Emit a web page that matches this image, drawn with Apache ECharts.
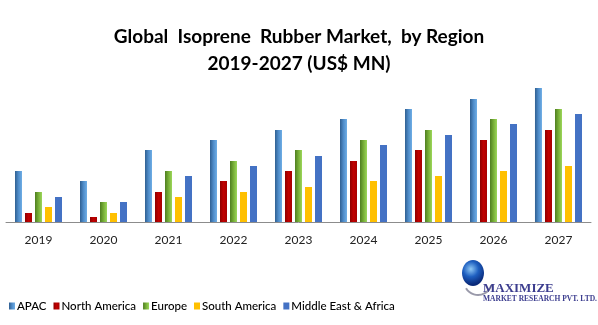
<!DOCTYPE html>
<html><head><meta charset="utf-8">
<script src="https://cdn.jsdelivr.net/npm/echarts@6/dist/echarts.min.js"></script>
<style>html,body{margin:0;padding:0;background:#fff}#c{width:598px;height:325px}</style>
</head><body><div id="c"></div>
<script>
const years = ['2019','2020','2021','2022','2023','2024','2025','2026','2027'];
const seriesNames = ['APAC','North America','Europe','South America','Middle East & Africa'];
const apac = [51, 41, 72, 82, 92, 103, 113, 123, 134];
const northAmerica = [9, 5, 30, 41, 51, 61, 72, 82, 92];
const europe = [30, 20, 51, 61, 72, 82, 92, 103, 113];
const southAmerica = [15, 9, 25, 30, 35, 41, 46, 51, 56];
const mea = [25, 20, 46, 56, 66, 77, 87, 98, 108];

function hgrad(stops){return {type:'linear',x:0,y:0,x2:1,y2:0,colorStops:stops.map((c,i)=>({offset:i/(stops.length-1),color:c}))};}
const colors = [
  hgrad(['#2F5F91','#4F8CC9','#6FAEE6']),
  hgrad(['#8E0000','#C00000','#A80000']),
  hgrad(['#4E7E20','#77AE37','#9CD75A']),
  '#FFC000',
  '#4472C4'
];
const values = [apac, northAmerica, europe, southAmerica, mea];
const chart = echarts.init(document.getElementById('c'));
chart.setOption({
  backgroundColor:'#fff',
  animation:false,
  title:{text:'Global  Isoprene  Rubber Market,  by Region\n2019-2027 (US$ MN)',left:'center',top:18,
    textStyle:{fontFamily:'Lato',fontWeight:'bold',fontSize:19,lineHeight:27,color:'#000'}},
  grid:{left:6,right:7,top:82,bottom:103},
  legend:{left:4,top:295,itemWidth:6,itemHeight:7,itemGap:7,icon:'rect',
    textStyle:{fontFamily:'Lato',fontSize:11.5,fontWeight:500,color:'#000',padding:[0,0,0,-3]},
    data:seriesNames},
  xAxis:{type:'category',data:years,axisTick:{show:false},
    axisLine:{lineStyle:{color:'#8C8C8C',width:1}},
    axisLabel:{fontFamily:'Lato',fontSize:12,color:'#222',margin:12}},
  yAxis:{type:'value',min:0,max:140,show:false,splitLine:{show:false}},
  series: seriesNames.map((n,i)=>({name:n,type:'bar',data:values[i],barWidth:7,barGap:'43%',
    itemStyle:{color:colors[i]}})),
  graphic:[
    {type:'ellipse',shape:{cx:473,cy:273,rx:11,ry:13},style:{fill:{type:'radial',x:0.4,y:0.35,r:0.7,colorStops:[{offset:0,color:'#8FC8F5'},{offset:0.5,color:'#1E5FC0'},{offset:1,color:'#0A2A7A'}]}}},
    {type:'arc',shape:{cx:478,cy:281,r:14,startAngle:0.3,endAngle:2.6},style:{stroke:'#9A9AAA',lineWidth:2,fill:null}},
    {type:'text',left:483,top:282,style:{text:'MAXIMIZE',fontFamily:'Liberation Serif',fontWeight:'bold',fontSize:13,fill:'#3B3C8E'}},
    {type:'text',left:483,top:295,style:{text:'MARKET RESEARCH PVT. LTD.',fontFamily:'Liberation Serif',fontWeight:'bold',fontSize:7.5,fill:'#3B3C8E'}}
  ]
});
</script></body></html>
